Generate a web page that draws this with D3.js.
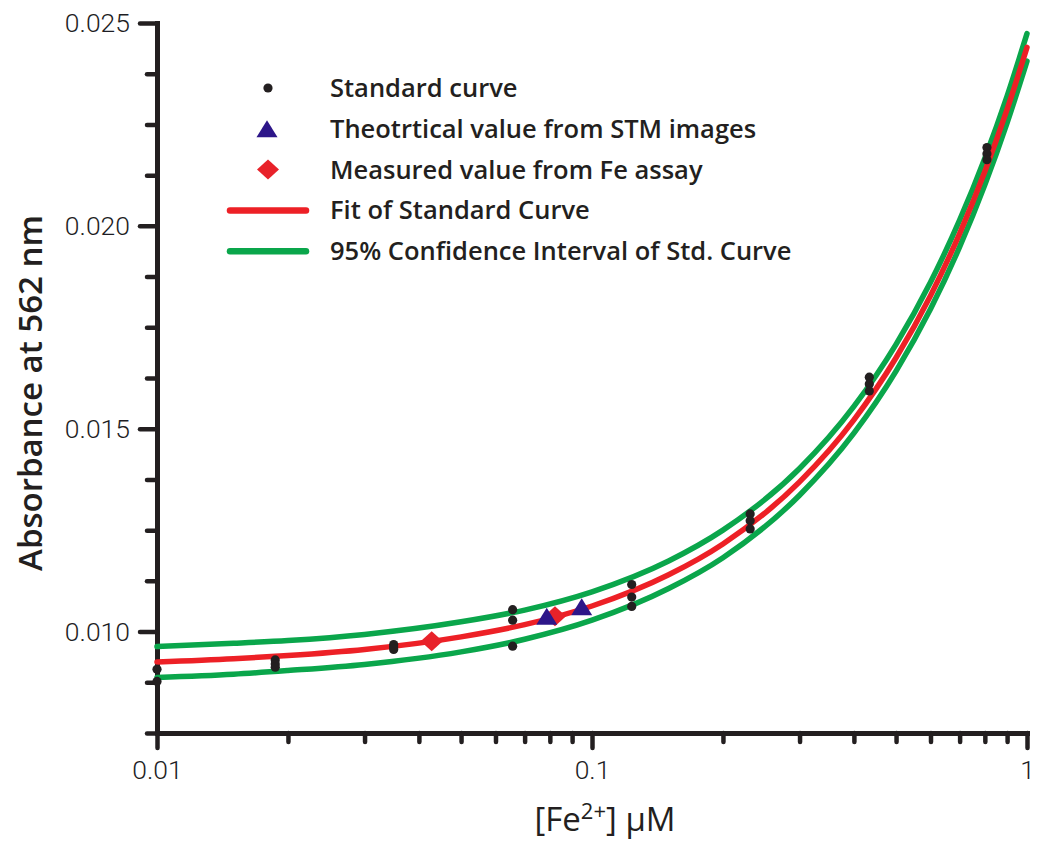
<!DOCTYPE html>
<html><head><meta charset="utf-8">
<script src="https://cdn.jsdelivr.net/npm/d3@7"></script>
<style>body{margin:0;background:#fff}</style>
</head><body>
<svg id="chart" width="1037" height="845"></svg>
<script>
// ---- data ----
const stdConc = [0.01, 0.01, 0.0187, 0.0187, 0.0187, 0.035, 0.035, 0.035, 0.0657, 0.0657, 0.0657,
                 0.1234, 0.1234, 0.1234, 0.231, 0.231, 0.231, 0.434, 0.434, 0.434, 0.809, 0.809, 0.809];
const stdAbs  = [0.00907, 0.00877, 0.00930, 0.00920, 0.00912, 0.00968, 0.00962, 0.00956, 0.01054, 0.01028, 0.00964,
                 0.01116, 0.01085, 0.01062, 0.01290, 0.01273, 0.01253, 0.01627, 0.01610, 0.01593, 0.02193, 0.02178, 0.02163];
const stmConc = [0.0787, 0.0947];
const stmAbs  = [0.01038, 0.01061];
const assayConc = [0.0428, 0.0822];
const assayAbs  = [0.00976, 0.01038];

const curveConc = [0.01, 0.015, 0.02, 0.03, 0.05, 0.07, 0.1, 0.15, 0.2, 0.3, 0.4, 0.5, 0.6, 0.7, 0.8, 0.9, 1.0];
const fitAbs    = [0.00925, 0.00933, 0.00941, 0.00956, 0.00987, 0.01017, 0.01063, 0.01140, 0.01216, 0.01369, 0.01522, 0.01675, 0.01828, 0.01981, 0.02134, 0.02287, 0.02440];
const ciUpper   = [0.00963, 0.00971, 0.00978, 0.00993, 0.01024, 0.01053, 0.01098, 0.01174, 0.01250, 0.01402, 0.01555, 0.01708, 0.01861, 0.02014, 0.02167, 0.02320, 0.02474];
const ciLower   = [0.00887, 0.00895, 0.00904, 0.00919, 0.00950, 0.00981, 0.01028, 0.01106, 0.01182, 0.01336, 0.01489, 0.01642, 0.01795, 0.01948, 0.02101, 0.02254, 0.02406];

const xMajorTicks = [0.01, 0.1, 1];
const xTickLabels = ["0.01", "0.1", "1"];
const xMinorTicks = [0.02, 0.03, 0.04, 0.05, 0.06, 0.07, 0.08, 0.09, 0.2, 0.3, 0.4, 0.5, 0.6, 0.7, 0.8, 0.9];
const yMajorTicks = [0.010, 0.015, 0.020, 0.025];
const yTickLabels = ["0.010", "0.015", "0.020", "0.025"];
const yMinorTicks = [0.0075, 0.00875, 0.01125, 0.0125, 0.01375, 0.01625, 0.0175, 0.01875, 0.02125, 0.0225, 0.02375];

const legendLabels = ["Standard curve", "Theotrtical value from STM images", "Measured value from Fe assay",
                      "Fit of Standard Curve", "95% Confidence Interval of Std. Curve"];

// ---- styles ----
const C = {ink: "#231f20", red: "#ed2026", green: "#0aa64b", blue: "#2d1689", diamond: "#e8222a"};

const svg = d3.select("#chart");
const x = d3.scaleLog().domain([0.01, 1]).range([157, 1027]);
const y = d3.scaleLinear().domain([0.0075, 0.025]).range([733, 23]);

const tickFont = "Roboto, 'Liberation Sans', sans-serif";
const textFont = "'Open Sans', 'Noto Sans', sans-serif";

function styleAxis(g, width) {
  g.select(".domain").attr("stroke", C.ink).attr("stroke-width", 5).attr("stroke-linecap", "square");
  g.selectAll(".tick line").attr("stroke", C.ink).attr("stroke-width", width).attr("stroke-linecap", "round");
  g.selectAll(".tick text").attr("fill", "#1d1d24").attr("font-family", tickFont)
    .attr("font-weight", 300).attr("font-size", 26.5);
}

// minor ticks first
svg.append("g").attr("transform", "translate(157,0)")
  .call(d3.axisLeft(y).tickValues(yMinorTicks).tickSize(10).tickSizeOuter(0).tickFormat(""))
  .call(g => { styleAxis(g, 4.5); g.select(".domain").remove(); });
svg.append("g").attr("transform", "translate(0,733)")
  .call(d3.axisBottom(x).tickValues(xMinorTicks).tickSize(9).tickSizeOuter(0).tickFormat(""))
  .call(g => { styleAxis(g, 4.5); g.select(".domain").remove(); });

// major axes
svg.append("g").attr("transform", "translate(157,0)")
  .call(d3.axisLeft(y).tickValues(yMajorTicks).tickSize(17).tickSizeOuter(0).tickPadding(10)
        .tickFormat((d, i) => yTickLabels[i]))
  .call(g => styleAxis(g, 4.5));
svg.append("g").attr("transform", "translate(0,733)")
  .call(d3.axisBottom(x).tickValues(xMajorTicks).tickSize(15).tickSizeOuter(0).tickPadding(12)
        .tickFormat((d, i) => xTickLabels[i]))
  .call(g => styleAxis(g, 4.5));

// curves
const line = d3.line().x(d => x(d[0])).y(d => y(d[1])).curve(d3.curveMonotoneX);
const curves = [
  {vals: ciUpper, color: C.green},
  {vals: ciLower, color: C.green},
  {vals: fitAbs, color: C.red}
];
svg.append("g").selectAll("path").data(curves).join("path")
  .attr("d", c => line(curveConc.map((cx, i) => [cx, c.vals[i]])))
  .attr("fill", "none").attr("stroke", c => c.color).attr("stroke-width", 5.5)
  .attr("stroke-linecap", "round").attr("stroke-linejoin", "round");

// symbols
const triPath = "M0,-8.5L10.5,8.5L-10.5,8.5Z";
const diaPath = "M0,-10L11,0L0,10L-11,0Z";

svg.append("g").selectAll("circle").data(stdConc).join("circle")
  .attr("cx", d => x(d)).attr("cy", (d, i) => y(stdAbs[i])).attr("r", 4.6).attr("fill", C.ink);
svg.append("g").selectAll("path").data(assayConc).join("path")
  .attr("transform", (d, i) => `translate(${x(d)},${y(assayAbs[i])})`)
  .attr("d", diaPath).attr("fill", C.diamond);
svg.append("g").selectAll("path").data(stmConc).join("path")
  .attr("transform", (d, i) => `translate(${x(d)},${y(stmAbs[i])})`)
  .attr("d", triPath).attr("fill", C.blue);

// legend
const lg = svg.append("g").attr("transform", "translate(268,0)");
const rowY = i => 88 + i * 40.8;
lg.append("circle").attr("cx", 0).attr("cy", rowY(0)).attr("r", 4.6).attr("fill", C.ink);
lg.append("path").attr("transform", `translate(-1,${rowY(1)})`).attr("d", triPath).attr("fill", C.blue);
lg.append("path").attr("transform", `translate(0,${rowY(2)})`).attr("d", diaPath).attr("fill", C.diamond);
lg.append("line").attr("x1", -38).attr("x2", 38).attr("y1", rowY(3)).attr("y2", rowY(3))
  .attr("stroke", C.red).attr("stroke-width", 6.5).attr("stroke-linecap", "round");
lg.append("line").attr("x1", -38).attr("x2", 38).attr("y1", rowY(4)).attr("y2", rowY(4))
  .attr("stroke", C.green).attr("stroke-width", 6.5).attr("stroke-linecap", "round");
lg.selectAll("text").data(legendLabels).join("text")
  .attr("x", 62).attr("y", (d, i) => rowY(i) + 9)
  .attr("font-family", textFont).attr("font-weight", 600).attr("font-size", 25.5)
  .attr("fill", C.ink).text(d => d);

// axis titles
svg.append("text").attr("transform", "translate(42,393) rotate(-90)")
  .attr("text-anchor", "middle").attr("font-family", textFont).attr("font-weight", 600)
  .attr("font-size", 33).attr("fill", C.ink).text("Absorbance at 562 nm");

const xt = svg.append("text").attr("x", 605).attr("y", 831).attr("text-anchor", "middle")
  .attr("font-family", textFont).attr("font-weight", 500).attr("font-size", 33).attr("fill", C.ink);
xt.append("tspan").text("[Fe");
xt.append("tspan").attr("dy", -12).attr("font-size", 22).text("2+");
xt.append("tspan").attr("dy", 12).text("] μM");
</script>
</body></html>
